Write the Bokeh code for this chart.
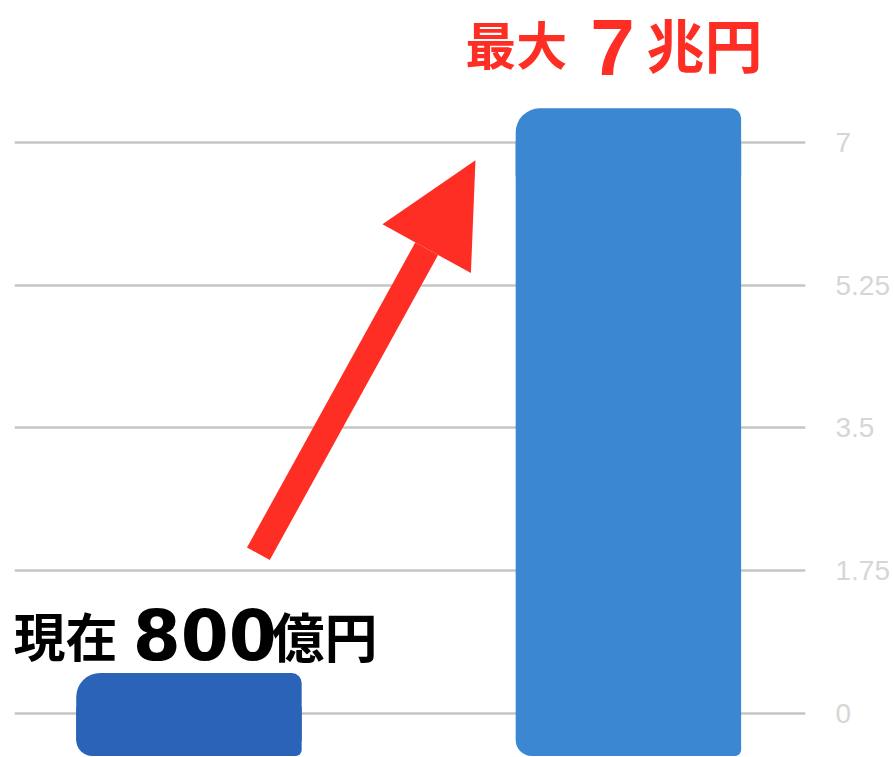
from bokeh.plotting import figure
from bokeh.models import ColumnDataSource, Range1d, FixedTicker, Arrow, NormalHead, Label
from bokeh.embed import file_html
from bokeh.resources import INLINE

# ---- data ----
categories = ["現在", "最大"]
values = [0.08, 7.0]            # 兆円 (800億円 = 0.08兆円)
bar_x = [0, 1]
bar_colors = ["#2b63b8", "#3b87d2"]
tick_values = [0, 1.75, 3.5, 5.25, 7]
tick_labels = ["0", "1.75", "3.5", "5.25", "7"]

BAR_BASE = -0.52
BAR_WIDTH = 0.513
RED = "#ff2e25"

src = ColumnDataSource(dict(x=bar_x, top=values, color=bar_colors, cat=categories))

p = figure(frame_width=791, frame_height=757,
           x_range=Range1d(-0.397, 1.403), y_range=Range1d(-0.5385, 8.7378),
           y_axis_location="right", toolbar_location=None, output_backend="svg",
           min_border_left=14, min_border_top=0, min_border_bottom=0, min_border_right=0)
p.outline_line_color = None
p.background_fill_color = "white"
p.border_fill_color = "white"
p.xaxis.visible = False
p.xgrid.visible = False

p.ygrid.ticker = FixedTicker(ticks=tick_values)
p.ygrid.grid_line_color = "#c6c6c6"
p.ygrid.grid_line_width = 2.5

ax = p.yaxis[0]
ax.ticker = FixedTicker(ticks=tick_values)
ax.major_label_overrides = {v: l for v, l in zip(tick_values, tick_labels)}
ax.axis_line_color = None
ax.major_tick_line_color = None
ax.minor_tick_line_color = None
ax.major_tick_out = 0
ax.major_tick_in = 0
ax.major_label_standoff = 30
ax.major_label_text_font = "Liberation Sans"
ax.major_label_text_font_size = "28px"
ax.major_label_text_color = "#d6d6d6"

# bars: front body + rounded top cap
p.vbar(x="x", width=BAR_WIDTH, top="top", bottom=BAR_BASE, source=src,
       fill_color="color", line_color=None, border_radius=(0, 0, 6, 16))
p.rect(x="x", y="top", width=BAR_WIDTH, height=68, height_units="screen", source=src,
       fill_color="color", line_color=None, border_radius=(24, 10, 0, 0))

# arrow
p.add_layout(Arrow(end=NormalHead(size=101, fill_color=RED, line_color=RED, line_width=0),
                   x_start=0.158, y_start=1.958, x_end=0.652, y_end=6.78,
                   line_color=RED, line_width=26))

def lab(x, y, text, size, color, font):
    p.add_layout(Label(x=x, y=y, text=text, text_font=font, text_font_style="bold",
                       text_font_size=size, text_color=color, text_baseline="alphabetic",
                       text_align="left"))

cjk = "Noto Sans CJK JP"
lab(-0.3993, 0.967, "現在", "52px", "black", cjk)
lab(-0.128, 0.967, "800", "69px", "black", "DejaVu Sans")
lab(0.1877, 0.967, "億円", "53px", "black", cjk)

lab(0.629, 8.211, "最大", "51px", RED, cjk)
lab(0.913, 8.159, "7", "80px", RED, "Liberation Sans")
lab(1.041, 8.211, "兆円", "58px", RED, cjk)

open("out.html", "w").write(file_html(p, INLINE))
